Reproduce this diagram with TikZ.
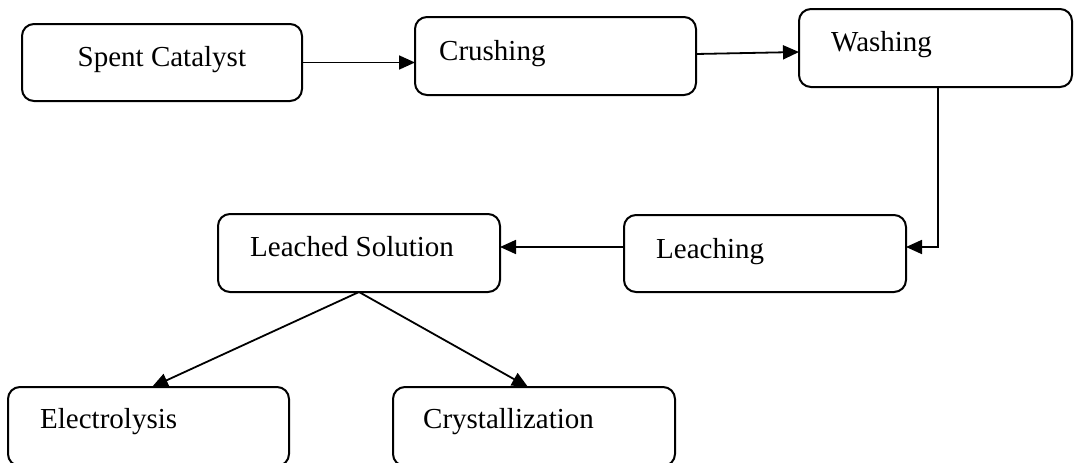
\documentclass[tikz,border=0pt]{standalone}
\usepackage{fontspec}
\setmainfont{Liberation Serif}
\usetikzlibrary{arrows.meta}
\begin{document}
\begin{tikzpicture}[x=1pt,y=-1pt,
  box/.style={draw=black,line width=2pt,rounded corners=12pt,inner sep=0pt,outer sep=0pt},
  txt/.style={anchor=base west,inner sep=0pt,font=\fontsize{29}{34}\selectfont},
  arr/.style={draw=black,line width=1.8pt,-{Triangle[length=16pt,width=14pt]}}]
\useasboundingbox (0,0) rectangle (1074,463);
% boxes
\node[box,minimum width=280pt,minimum height=77pt] (sc) at (162,62.5) {};
\node[box,minimum width=281pt,minimum height=78pt] (cr) at (555.5,56) {};
\node[box,minimum width=273pt,minimum height=78pt] (wa) at (935.5,48) {};
\node[box,minimum width=282pt,minimum height=77pt] (le) at (765,253.5) {};
\node[box,minimum width=282pt,minimum height=78pt] (ls) at (359,253) {};
\node[box,minimum width=281pt,minimum height=79pt] (el) at (148.5,426.5) {};
\node[box,minimum width=282pt,minimum height=79pt] (cy) at (534,426.5) {};
% texts
\node[txt] (tsc) at (77.5,66) {Spent Catalyst};
\node[txt] (tcr) at (439,60) {Crushing};
\node[txt] (twa) at (831,51) {Washing};
\node[txt] (tle) at (656,258) {Leaching};
\node[txt] (tls) at (250,256) {Leached Solution};
\node[txt] (tel) at (40,428) {Electrolysis};
\node[txt] (tcy) at (423,428) {Crystallization};
% connectors
\draw[arr] (sc.east) -- (sc.east -| cr.west);
\draw[arr] ([yshift=2pt]cr.east) -- ([yshift=-4pt]wa.west);
\draw[arr] ([xshift=2.5pt]wa.south) |- ([yshift=6.5pt]le.east);
\draw[arr] ([yshift=6.5pt]le.west) -- ([yshift=6.5pt]le.west -| ls.east);
\draw[arr] (ls.south) -- ([xshift=3.5pt]el.north);
\draw[arr] (ls.south) -- ([xshift=-6pt]cy.north);
\end{tikzpicture}
\end{document}
